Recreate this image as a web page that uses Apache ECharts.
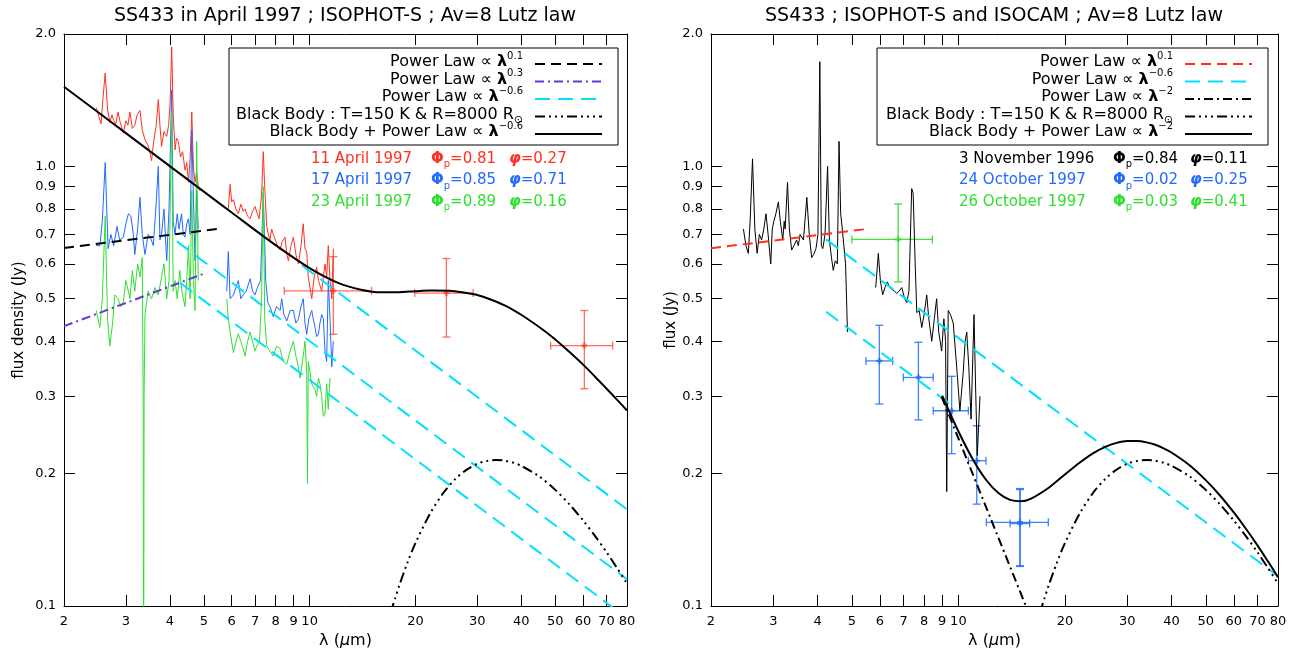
<!DOCTYPE html>
<html>
<head>
<meta charset="utf-8">
<title>SS433 ISOPHOT-S / ISOCAM spectra</title>
<script src="https://cdn.jsdelivr.net/npm/echarts@6/dist/echarts.min.js"></script>
<style>
  html, body { margin: 0; padding: 0; background: #fff; }
  #main { width: 1294px; height: 655px; }
</style>
</head>
<body>
<div id="main"></div>
<script>
// tick positions (log axes)
const xTicks = [2, 3, 4, 5, 6, 7, 8, 9, 10, 20, 30, 40, 50, 60, 70, 80]
const yTicks = [0.1, 0.2, 0.3, 0.4, 0.5, 0.6, 0.7, 0.8, 0.9, 1.0, 2.0]

// ---- left panel : ISOPHOT-S, April 1997   [lambda (um), flux (Jy)]
const april11SS = [[2.47,1.36],[2.51,1.30],[2.55,1.25],[2.58,1.42],[2.62,1.63],[2.66,1.35],[2.70,1.26],[2.74,1.31],[2.77,1.27],[2.81,1.25],[2.85,1.33],[2.89,1.26],[2.95,1.19],[3.00,1.27],[3.04,1.24],[3.08,1.33],[3.13,1.22],[3.18,1.24],[3.23,1.31],[3.29,1.34],[3.34,1.21],[3.40,1.15],[3.46,1.12],[3.51,1.08],[3.55,1.03],[3.60,1.14],[3.66,1.24],[3.71,1.42],[3.75,1.24],[3.79,1.11],[3.85,1.20],[3.92,1.17],[3.97,1.24],[4.01,1.40],[4.05,1.87],[4.09,1.32],[4.14,1.09],[4.18,1.16],[4.23,1.14],[4.29,1.05],[4.35,1.08],[4.42,0.98],[4.47,1.02],[4.52,0.92],[4.57,1.04],[4.62,1.33],[4.67,0.99],[4.72,0.92],[4.77,0.97],[4.82,0.90],[4.87,0.88]]
const april11SL = [[5.87,0.80],[5.94,0.91],[6.00,0.83],[6.07,0.84],[6.17,0.80],[6.27,0.78],[6.37,0.82],[6.47,0.79],[6.55,0.80],[6.66,0.77],[6.77,0.76],[6.88,0.79],[6.99,0.81],[7.07,0.81],[7.18,0.76],[7.30,0.86],[7.38,1.08],[7.45,0.90],[7.55,0.73],[7.63,0.70],[7.71,0.68],[7.80,0.72],[7.88,0.70],[7.97,0.70],[8.10,0.66],[8.24,0.645],[8.33,0.67],[8.51,0.69],[8.61,0.63],[8.70,0.61],[8.85,0.66],[8.99,0.69],[9.14,0.63],[9.29,0.60],[9.45,0.66],[9.59,0.74],[9.70,0.65],[9.81,0.64],[9.91,0.56],[10.14,0.50],[10.30,0.56],[10.47,0.59],[10.60,0.55],[10.82,0.52],[10.94,0.56],[11.06,0.60],[11.18,0.56],[11.30,0.66],[11.43,0.55],[11.56,0.50],[11.68,0.65]]
const april17SS = [[2.47,0.66],[2.53,0.66],[2.57,0.75],[2.62,1.02],[2.67,0.65],[2.72,0.70],[2.77,0.66],[2.83,0.73],[2.88,0.68],[2.95,0.69],[3.00,0.74],[3.05,0.78],[3.10,0.77],[3.15,0.70],[3.18,0.63],[3.24,0.72],[3.29,0.85],[3.34,0.70],[3.40,0.63],[3.47,0.70],[3.52,0.69],[3.59,0.66],[3.65,0.80],[3.71,1.00],[3.75,0.68],[3.79,0.70],[3.85,0.80],[3.92,0.61],[3.98,0.80],[4.05,1.49],[4.09,0.75],[4.14,0.70],[4.20,0.78],[4.25,0.72],[4.32,0.78],[4.37,0.70],[4.42,0.69],[4.47,0.74],[4.52,0.76],[4.57,0.70],[4.62,1.21],[4.67,0.85],[4.72,0.61],[4.77,0.88],[4.82,0.72]]
const april17SL = [[5.81,0.52],[5.87,0.64],[5.94,0.50],[6.07,0.51],[6.17,0.53],[6.27,0.55],[6.37,0.50],[6.47,0.51],[6.60,0.52],[6.77,0.555],[6.88,0.52],[6.99,0.51],[7.10,0.53],[7.25,0.55],[7.38,0.87],[7.50,0.55],[7.60,0.49],[7.71,0.48],[7.88,0.455],[8.05,0.48],[8.24,0.47],[8.33,0.50],[8.45,0.46],[8.61,0.445],[8.80,0.47],[8.99,0.47],[9.14,0.44],[9.29,0.45],[9.45,0.48],[9.59,0.50],[9.70,0.44],[9.81,0.415],[9.95,0.45],[10.14,0.47],[10.24,0.45],[10.36,0.43],[10.47,0.41],[10.59,0.415],[10.70,0.44],[10.82,0.46],[10.94,0.45],[11.06,0.38],[11.18,0.36],[11.30,0.55],[11.43,0.45],[11.56,0.35],[11.68,0.40]]
const april23SS = [[2.47,0.47],[2.53,0.43],[2.57,0.50],[2.62,0.77],[2.66,0.45],[2.70,0.39],[2.75,0.44],[2.79,0.51],[2.85,0.50],[2.90,0.48],[2.95,0.49],[3.00,0.55],[3.05,0.52],[3.08,0.50],[3.13,0.58],[3.18,0.52],[3.24,0.60],[3.29,0.56],[3.34,0.62],[3.36,0.30],[3.37,0.05],[3.38,0.30],[3.40,0.46],[3.47,0.52],[3.55,0.50],[3.63,0.53],[3.71,0.51],[3.79,0.56],[3.85,0.60],[3.92,0.50],[3.98,0.55],[4.05,1.32],[4.09,0.52],[4.14,0.55],[4.20,0.50],[4.27,0.58],[4.33,0.52],[4.42,0.48],[4.47,0.55],[4.52,0.66],[4.57,0.50],[4.62,0.88],[4.67,0.55],[4.72,0.47],[4.77,1.14],[4.82,0.55]]
const april23SL = [[5.81,0.50],[5.87,0.45],[5.94,0.42],[6.07,0.377],[6.17,0.40],[6.27,0.416],[6.37,0.40],[6.47,0.385],[6.55,0.37],[6.66,0.40],[6.77,0.42],[6.88,0.40],[6.99,0.38],[7.07,0.39],[7.20,0.40],[7.30,0.50],[7.38,0.90],[7.45,0.45],[7.55,0.39],[7.71,0.38],[7.88,0.37],[8.05,0.39],[8.24,0.385],[8.40,0.36],[8.61,0.355],[8.80,0.38],[8.99,0.40],[9.14,0.37],[9.29,0.35],[9.39,0.33],[9.59,0.37],[9.70,0.40],[9.81,0.34],[9.86,0.19],[9.91,0.36],[10.14,0.32],[10.36,0.31],[10.47,0.30],[10.59,0.33],[10.70,0.32],[10.82,0.30],[10.94,0.27],[11.06,0.274],[11.18,0.32],[11.30,0.28],[11.43,0.33]]
// photometry: [lambda, flux, lambdaLo, lambdaHi, fluxLo, fluxHi]
const aprilPhot = [[11.68,0.521,8.47,15.0,0.415,0.623],[24.5,0.515,19.9,29.2,0.409,0.617],[60.5,0.391,48.5,72.8,0.312,0.470]]

// models, left panel
const plLeft01 = [[2,0.652],[5.56,0.722]]
const plLeft03 = [[2,0.433],[5,0.570]]
const plLeftUp = [[9.5,0.596],[80,0.1659]]
const plLeftMid = [[4.19,0.675],[80,0.115]]
const plLeftLow = [[4.28,0.5434],[80,0.0938]]
const blackBody = [[17,0.0966],[17.5,0.104],[18,0.1115],[19,0.1257],[20,0.139],[22,0.1621],[24,0.1807],[26,0.1946],[28,0.2043],[30,0.2106],[32,0.2138],[34,0.2148],[36,0.2140],[38,0.2118],[40,0.2084],[45,0.1971],[50,0.1837],[55,0.1699],[60,0.1565],[65,0.144],[70,0.1325],[75,0.1219],[80,0.1125]]
const bbPlusLeft = [[2,1.517],[3,1.190],[4,1.001],[5,0.876],[6,0.785],[8,0.662],[10,0.587],[12,0.544],[14,0.524],[16,0.517],[18,0.5175],[20,0.520],[22,0.522],[25,0.5215],[28,0.515],[30,0.510],[32,0.5013],[34,0.492],[36,0.482],[38,0.4711],[40,0.4596],[45,0.431],[50,0.404],[55,0.3776],[60,0.354],[65,0.3319],[70,0.312],[75,0.2944],[80,0.2784]]

// ---- right panel : ISOPHOT-S (3 Nov 1996) and ISOCAM (Oct 1997)
const nov3SS = [[2.47,0.72],[2.51,0.66],[2.55,0.634],[2.58,0.75],[2.62,1.04],[2.66,0.72],[2.70,0.634],[2.74,0.70],[2.78,0.68],[2.82,0.72],[2.86,0.78],[2.90,0.70],[2.95,0.60],[2.98,0.72],[3.01,0.75],[3.05,0.78],[3.10,0.83],[3.14,0.75],[3.19,0.68],[3.22,0.75],[3.24,0.72],[3.29,0.92],[3.33,0.72],[3.38,0.645],[3.43,0.66],[3.49,0.68],[3.53,0.66],[3.57,0.70],[3.65,0.68],[3.73,0.85],[3.79,0.70],[3.85,0.62],[3.90,0.63],[3.96,0.65],[4.01,0.70],[4.06,1.73],[4.10,0.66],[4.14,0.65],[4.20,0.70],[4.27,1.00],[4.32,0.68],[4.38,0.62],[4.43,0.58],[4.49,0.61],[4.55,0.60],[4.60,1.14],[4.65,0.78],[4.70,0.72],[4.73,0.68],[4.80,0.60],[4.86,0.42]]
const nov3SL = [[5.84,0.53],[5.94,0.634],[6.02,0.55],[6.11,0.51],[6.20,0.53],[6.30,0.546],[6.40,0.53],[6.48,0.53],[6.60,0.52],[6.70,0.514],[6.80,0.52],[6.92,0.53],[7.05,0.50],[7.15,0.49],[7.25,0.52],[7.38,0.89],[7.45,0.87],[7.55,0.60],[7.63,0.465],[7.75,0.47],[7.88,0.43],[8.00,0.46],[8.14,0.51],[8.25,0.45],[8.41,0.40],[8.55,0.45],[8.68,0.50],[8.80,0.42],[8.97,0.38],[9.10,0.45],[9.20,0.40],[9.27,0.182],[9.36,0.47],[9.50,0.46],[9.67,0.44],[9.89,0.35],[10.10,0.278],[10.32,0.34],[10.45,0.40],[10.56,0.42],[10.70,0.35],[10.86,0.266],[11.07,0.46],[11.20,0.30],[11.31,0.22],[11.51,0.30]]
const oct26Phot = [[6.76,0.682,5.0,8.44,0.546,0.821]]
const oct24Phot = [[5.98,0.361,5.48,6.52,0.288,0.435],[7.71,0.331,6.99,8.49,0.265,0.398],[9.57,0.278,8.49,10.67,0.222,0.333],[11.27,0.214,10.67,11.97,0.1705,0.257],[14.93,0.155,12.0,17.95,0.123,0.185],[14.93,0.154,14.0,15.9,0.1235,0.184]]

// models, right panel
const plRight01 = [[2,0.651],[5.57,0.721]]
const plRightUp = [[4.23,0.682],[80,0.1169]]
const plRightLow = [[4.23,0.467],[9.78,0.2826]]
const plRight2 = [[8.97,0.299],[16,0.094]]
const bbPlusRight = [[9,0.301],[10,0.2497],[11,0.2152],[12,0.1932],[13,0.1804],[14,0.1743],[15,0.173],[16,0.1753],[18,0.1858],[20,0.1992],[22,0.2118],[24,0.2225],[26,0.2302],[28,0.235],[30,0.2373],[32,0.2373],[34,0.2356],[36,0.2326],[38,0.2284],[40,0.2234],[45,0.209],[50,0.1933],[55,0.1779],[60,0.1632],[65,0.1497],[70,0.1374],[75,0.1262],[80,0.1163]]

const font = 'DejaVu Sans'
const RED = '#ff3020', BLUE = '#2468ff', GREEN = '#2fe02f', CYAN = '#00e0ff', PURPLE = '#6a35d0'

const chart = echarts.init(document.getElementById('main'))

function xAx (grid, pos, labels) {
  return {
    type: 'log', logBase: 10, gridIndex: grid, position: pos, min: 2, max: 80,
    name: labels ? 'λ ({i|μ}m)' : '', nameLocation: 'middle', nameGap: 26,
    nameTextStyle: { fontFamily: font, fontSize: 16, color: '#000', rich: { i: { fontStyle: 'italic', fontFamily: font, fontSize: 16 } } },
    axisLine: { show: true, lineStyle: { color: '#000', width: 1 } },
    axisTick: { show: true, inside: true, length: 11, customValues: xTicks, lineStyle: { color: '#000' } },
    axisLabel: { show: labels, customValues: xTicks, margin: 9, fontFamily: font, fontSize: 13, color: '#000',
      formatter: v => String(Math.round(v)) },
    minorTick: { show: false }, splitLine: { show: false }
  }
}
function yAx (grid, pos, labels, name, gap) {
  return {
    type: 'log', logBase: 10, gridIndex: grid, position: pos, min: 0.1, max: 2,
    name: name || '', nameLocation: 'middle', nameGap: gap || 0,
    nameTextStyle: { fontFamily: font, fontSize: 15, color: '#000' },
    axisLine: { show: true, lineStyle: { color: '#000', width: 1 } },
    axisTick: { show: true, inside: true, length: 11, customValues: yTicks, lineStyle: { color: '#000' } },
    axisLabel: { show: labels, customValues: yTicks, margin: 8, fontFamily: font, fontSize: 13, color: '#000',
      formatter: v => (Math.round(v * 10) / 10).toFixed(1) },
    minorTick: { show: false }, splitLine: { show: false }
  }
}

function spec (data, color, xi) {
  return { type: 'line', data, xAxisIndex: xi, yAxisIndex: xi, showSymbol: false, symbol: 'none',
    lineStyle: { color, width: 1 }, silent: true }
}
function model (data, color, dash, xi, smooth) {
  return { type: 'line', data, xAxisIndex: xi, yAxisIndex: xi, showSymbol: false, symbol: 'none',
    smooth: smooth ? 0.3 : false, lineStyle: { color, width: 2, type: dash }, silent: true }
}
function errBars (data, color, xi) {
  return {
    type: 'custom', data, xAxisIndex: xi, yAxisIndex: xi, silent: true,
    encode: { x: 0, y: 1 },
    itemStyle: { color },
    renderItem: function (params, api) {
      const c = api.coord([api.value(0), api.value(1)])
      const l = api.coord([api.value(2), api.value(1)])
      const r = api.coord([api.value(3), api.value(1)])
      const lo = api.coord([api.value(0), api.value(4)])
      const hi = api.coord([api.value(0), api.value(5)])
      const st = { stroke: color, lineWidth: 1.3 }
      const st2 = { stroke: color, lineWidth: 2.2 }
      const cap = 4
      const seg = (x1, y1, x2, y2, s) => ({ type: 'line', shape: { x1, y1, x2, y2 }, style: s })
      return { type: 'group', children: [
        seg(l[0], c[1], r[0], c[1], st),
        seg(c[0], hi[1], c[0], lo[1], st),
        seg(l[0], c[1] - cap, l[0], c[1] + cap, st),
        seg(r[0], c[1] - cap, r[0], c[1] + cap, st),
        seg(c[0] - cap, hi[1], c[0] + cap, hi[1], st),
        seg(c[0] - cap, lo[1], c[0] + cap, lo[1], st),
        seg(c[0] - 3, c[1], c[0] + 3, c[1], st2),
        seg(c[0], c[1] - 3, c[0], c[1] + 3, st2)
      ] }
    }
  }
}

const DASH = [10, 6], LONG = [15, 8], DASHDOT = [9, 4, 2, 4], DASHDOT3 = [10, 4, 2, 4, 2, 4, 2, 4]

// legend text helpers
function richFor (size) {
  return {
    b: { fontWeight: 'bold', fontFamily: font, fontSize: size },
    i: { fontStyle: 'italic', fontWeight: 'bold', fontFamily: font, fontSize: size },
    sup: { fontSize: Math.round(size * 0.62), fontFamily: font, verticalAlign: 'top' },
    sub: { fontSize: Math.round(size * 0.68), fontFamily: font, verticalAlign: 'bottom' }
  }
}
function txt (x, y, text, color, align, size) {
  size = size || 15
  align = align || 'left'
  return { type: 'text', x, y, silent: true,
    style: { text, fill: color || '#000', align, textAlign: align, verticalAlign: 'middle', textVerticalAlign: 'middle',
      fontFamily: font, fontSize: size, lineHeight: Math.round(size * 1.4), rich: richFor(size) } }
}
function sample (x1, x2, y, color, dash) {
  return { type: 'line', silent: true, shape: { x1, y1: y, x2, y2: y },
    style: { stroke: color, lineWidth: 2, lineDash: dash || null } }
}

const rowsY = [62, 79.5, 97, 114.5, 132]
const LEG = 16
const graphics = [
  txt(345, 16, 'SS433 in April 1997 ; ISOPHOT-S ; Av=8 Lutz law', '#000', 'center', 19),
  txt(994, 16, 'SS433 ; ISOPHOT-S and ISOCAM ; Av=8 Lutz law', '#000', 'center', 19),
  // left legend
  { type: 'rect', silent: true, shape: { x: 229, y: 48, width: 389, height: 97 }, style: { fill: 'none', stroke: '#000', lineWidth: 1 } },
  txt(523, rowsY[0], 'Power Law ∝ {b|λ}{sup|0.1}', '#000', 'right', LEG),
  txt(523, rowsY[1], 'Power Law ∝ {b|λ}{sup|0.3}', '#000', 'right', LEG),
  txt(523, rowsY[2], 'Power Law ∝ {b|λ}{sup|−0.6}', '#000', 'right', LEG),
  txt(523, rowsY[3], 'Black Body : T=150 K & R=8000 R{sub|⊙}', '#000', 'right', LEG),
  txt(523, rowsY[4], 'Black Body + Power Law ∝ {b|λ}{sup|−0.6}', '#000', 'right', LEG),
  sample(535, 602, rowsY[0] + 2, '#000', DASH),
  sample(535, 602, rowsY[1] + 2, PURPLE, DASHDOT),
  sample(535, 602, rowsY[2] + 2, CYAN, LONG),
  sample(535, 602, rowsY[3] + 2, '#000', DASHDOT3),
  sample(535, 602, rowsY[4] + 2, '#000'),
  txt(311, 159, '11 April 1997', RED), txt(431, 159, '{b|Φ}{sub|p}=0.81', RED), txt(509, 159, '{i|φ}=0.27', RED),
  txt(311, 180.5, '17 April 1997', BLUE), txt(431, 180.5, '{b|Φ}{sub|p}=0.85', BLUE), txt(509, 180.5, '{i|φ}=0.71', BLUE),
  txt(311, 202, '23 April 1997', GREEN), txt(431, 202, '{b|Φ}{sub|p}=0.89', GREEN), txt(509, 202, '{i|φ}=0.16', GREEN),
  // right legend
  { type: 'rect', silent: true, shape: { x: 877, y: 48, width: 391, height: 97 }, style: { fill: 'none', stroke: '#000', lineWidth: 1 } },
  txt(1173, rowsY[0], 'Power Law ∝ {b|λ}{sup|0.1}', '#000', 'right', LEG),
  txt(1173, rowsY[1], 'Power Law ∝ {b|λ}{sup|−0.6}', '#000', 'right', LEG),
  txt(1173, rowsY[2], 'Power Law ∝ {b|λ}{sup|−2}', '#000', 'right', LEG),
  txt(1173, rowsY[3], 'Black Body : T=150 K & R=8000 R{sub|⊙}', '#000', 'right', LEG),
  txt(1173, rowsY[4], 'Black Body + Power Law ∝ {b|λ}{sup|−2}', '#000', 'right', LEG),
  sample(1185, 1252, rowsY[0] + 2, RED, DASH),
  sample(1185, 1252, rowsY[1] + 2, CYAN, LONG),
  sample(1185, 1252, rowsY[2] + 2, '#000', DASHDOT),
  sample(1185, 1252, rowsY[3] + 2, '#000', DASHDOT3),
  sample(1185, 1252, rowsY[4] + 2, '#000'),
  txt(959, 159, '3 November 1996', '#000'), txt(1113, 159, '{b|Φ}{sub|p}=0.84', '#000'), txt(1190, 159, '{i|φ}=0.11', '#000'),
  txt(959, 180.5, '24 October 1997', BLUE), txt(1113, 180.5, '{b|Φ}{sub|p}=0.02', BLUE), txt(1190, 180.5, '{i|φ}=0.25', BLUE),
  txt(959, 202, '26 October 1997', GREEN), txt(1113, 202, '{b|Φ}{sub|p}=0.03', GREEN), txt(1190, 202, '{i|φ}=0.41', GREEN)
]

const option = {
  animation: false,
  backgroundColor: '#fff',
  grid: [
    { left: 64, top: 34, width: 563, height: 572 },
    { left: 711, top: 34, width: 567, height: 572 }
  ],
  xAxis: [xAx(0, 'bottom', true), xAx(0, 'top', false), xAx(1, 'bottom', true), xAx(1, 'top', false)],
  yAxis: [
    yAx(0, 'left', true, 'flux density (Jy)', 37), yAx(0, 'right', false),
    yAx(1, 'left', true, 'flux (Jy)', 14), yAx(1, 'right', false)
  ],
  series: [
    spec(april11SS, RED, 0), spec(april11SL, RED, 0),
    spec(april17SS, BLUE, 0), spec(april17SL, BLUE, 0),
    spec(april23SS, GREEN, 0), spec(april23SL, GREEN, 0),
    errBars(aprilPhot, 'rgba(255,60,40,0.75)', 0),
    model(plLeft01, '#000', DASH, 0),
    model(plLeft03, PURPLE, DASHDOT, 0),
    model(plLeftMid, CYAN, LONG, 0),
    model(plLeftLow, CYAN, LONG, 0),
    model(plLeftUp, CYAN, LONG, 0),
    model(blackBody, '#000', DASHDOT3, 0, true),
    model(bbPlusLeft, '#000', 'solid', 0, true),

    spec(nov3SS, '#000', 2), spec(nov3SL, '#000', 2),
    errBars(oct26Phot, '#3fe03f', 2),
    errBars(oct24Phot, 'rgba(30,110,255,0.85)', 2),
    model(plRight01, RED, DASH, 2),
    model(plRightUp, CYAN, LONG, 2),
    model(plRightLow, CYAN, LONG, 2),
    model(plRight2, '#000', DASHDOT, 2),
    model(blackBody, '#000', DASHDOT3, 2, true),
    model(bbPlusRight, '#000', 'solid', 2, true)
  ],
  graphic: graphics
}

chart.setOption(option)
</script>
</body>
</html>
